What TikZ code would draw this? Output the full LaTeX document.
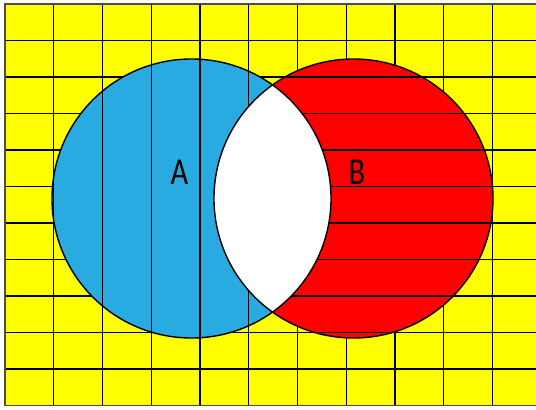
\documentclass[tikz,border=0pt]{standalone}
\usepackage{fontspec}
\setmainfont{Carlito}
\definecolor{bgyellow}{RGB}{255,255,0}
\definecolor{setblue}{RGB}{41,171,226}
\definecolor{setred}{RGB}{255,0,0}
\begin{document}
\begin{tikzpicture}[x=1pt,y=-1pt,
  gridline/.style={black, line width=1.4pt},
  outline/.style={black, line width=1.4pt},
  frameline/.style={black!70, line width=1.5pt},
  setlabel/.style={anchor=base, inner sep=0pt, font=\fontsize{38}{42}\selectfont, xscale=0.8}]
\useasboundingbox (0,0) rectangle (536,410);
\fill[white] (0,0) rectangle (536,410);
\fill[bgyellow] (5,4) rectangle (536,405.5);
\foreach \i in {1,...,10} \draw[gridline] (5+48.75*\i,4) -- (5+48.75*\i,405.5);
\foreach \j in {1,...,10} \draw[gridline] (5,4+36.5*\j) -- (536,4+36.5*\j);
\fill[setblue] (191.5,198.5) circle[radius=139.5pt];
\fill[setred] (353.5,198.5) circle[radius=139.5pt];
\begin{scope}
  \clip (191.5,198.5) circle[radius=139.5pt];
  \foreach \i in {1,...,10} \draw[gridline] (5+48.75*\i,4) -- (5+48.75*\i,405.5);
\end{scope}
\begin{scope}
  \clip (353.5,198.5) circle[radius=139.5pt];
  \foreach \j in {1,...,10} \draw[gridline] (5,4+36.5*\j) -- (536,4+36.5*\j);
\end{scope}
\begin{scope}
  \clip (191.5,198.5) circle[radius=139.5pt];
  \fill[white] (353.5,198.5) circle[radius=139.5pt];
\end{scope}
\draw[outline] (191.5,198.5) circle[radius=139.5pt];
\draw[outline] (353.5,198.5) circle[radius=139.5pt];
\draw[frameline] (536,4) -- (5,4) -- (5,405.5) -- (536,405.5);
\node[setlabel] (labA) at (179.5,184.5) {A};
\node[setlabel] (labB) at (357,184.5) {B};
\end{tikzpicture}
\end{document}
